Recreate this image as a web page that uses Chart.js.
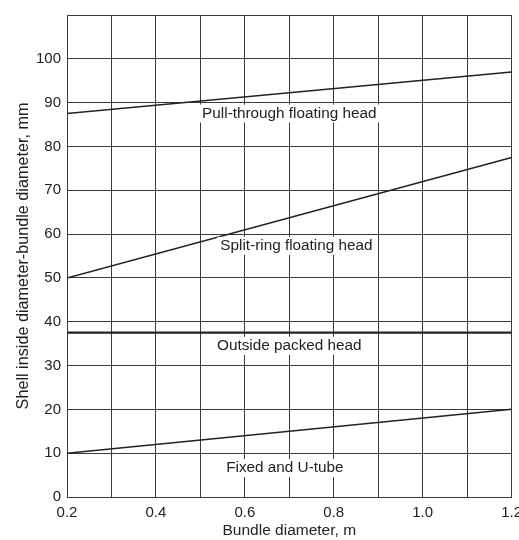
<!DOCTYPE html>
<html>
<head>
<meta charset="utf-8">
<script src="https://cdn.jsdelivr.net/npm/chart.js@4.4.1/dist/chart.umd.min.js"></script>
<style>
  html, body { margin: 0; padding: 0; background: #fff; overflow: hidden; }
  #wrap { position: relative; width: 529px; height: 540px; }
</style>
</head>
<body>
<div id="wrap"><canvas id="clearanceChart"></canvas></div>
<script>
// bundle diameter, m (end points of each line)
const bundleDiameter = [0.2, 1.2];

// shell inside diameter - bundle diameter, mm
const pullThrough = [87.5, 97];
const splitRing = [50, 77.5];
const outsidePacked = [37.5, 37.5];
const fixedUTube = [10, 20];

// curve labels: text, x (m), y (mm)
const curveNames = ["Pull-through floating head", "Split-ring floating head", "Outside packed head", "Fixed and U-tube"];
const nameX = [0.7, 0.716, 0.7, 0.69];
const nameY = [87.5, 57.3, 34.5, 6.6];

const ink = '#222';
const gridColor = '#3a3a3a';
const fontFamily = '"Liberation Sans", Arial, sans-serif';

function to_points(values) {
    return bundleDiameter.map((x, i) => ({ x: x, y: values[i] }));
}

// draws the curve names on white boxes over the grid
const curveLabels = {
    id: 'curveLabels',
    afterDatasetsDraw(chart) {
        const ctx = chart.ctx;
        const xs = chart.scales.x;
        const ys = chart.scales.y;
        ctx.save();
        ctx.font = '15.3px ' + fontFamily;
        ctx.textAlign = 'center';
        ctx.textBaseline = 'middle';
        curveNames.forEach((name, i) => {
            const px = xs.getPixelForValue(nameX[i]);
            const py = ys.getPixelForValue(nameY[i]);
            const w = ctx.measureText(name).width;
            ctx.fillStyle = '#fff';
            ctx.fillRect(px - w / 2 - 3, py - 9, w + 6, 18);
            ctx.fillStyle = ink;
            ctx.fillText(name, px, py);
        });
        ctx.restore();
    }
};

const lineStyle = { borderColor: ink, borderWidth: 1.5, pointRadius: 0, fill: false, tension: 0 };

new Chart("clearanceChart", {
    type: 'line',
    data: {
        datasets: [
            { ...lineStyle, label: curveNames[0], data: to_points(pullThrough) },
            { ...lineStyle, label: curveNames[1], data: to_points(splitRing) },
            { ...lineStyle, label: curveNames[2], data: to_points(outsidePacked), borderWidth: 2.2 },
            { ...lineStyle, label: curveNames[3], data: to_points(fixedUTube) }
        ]
    },
    options: {
        responsive: true,
        maintainAspectRatio: false,
        animation: false,
        layout: { padding: { top: 13, left: 0, right: 0, bottom: 0 } },
        plugins: { legend: { display: false }, tooltip: { enabled: false } },
        scales: {
            x: {
                type: 'linear',
                min: 0.2,
                max: 1.2,
                border: { color: gridColor, width: 1 },
                grid: { color: gridColor, lineWidth: 1, drawTicks: false },
                ticks: {
                    stepSize: 0.1,
                    padding: 7,
                    color: ink,
                    font: { family: fontFamily, size: 15 },
                    maxRotation: 0,
                    autoSkip: false,
                    callback: v => Math.round(v * 10) % 2 === 0 ? v.toFixed(1) : ''
                },
                title: {
                    display: true,
                    text: 'Bundle diameter, m',
                    color: ink,
                    font: { family: fontFamily, size: 15.5 },
                    padding: { top: 3, bottom: 0 }
                },
                afterFit: scale => { scale.height = 43; }
            },
            y: {
                min: 0,
                max: 110,
                border: { color: gridColor, width: 1 },
                grid: { color: gridColor, lineWidth: 1, drawTicks: false },
                ticks: {
                    stepSize: 10,
                    padding: 6,
                    color: ink,
                    font: { family: fontFamily, size: 15 },
                    callback: v => v >= 110 ? '' : v
                },
                title: {
                    display: true,
                    text: 'Shell inside diameter-bundle diameter, mm',
                    color: ink,
                    font: { family: fontFamily, size: 16.2 },
                    padding: { top: 14, bottom: 0 }
                },
                afterFit: scale => { scale.width = 67; }
            }
        }
    },
    plugins: [curveLabels]
});
</script>
</body>
</html>
